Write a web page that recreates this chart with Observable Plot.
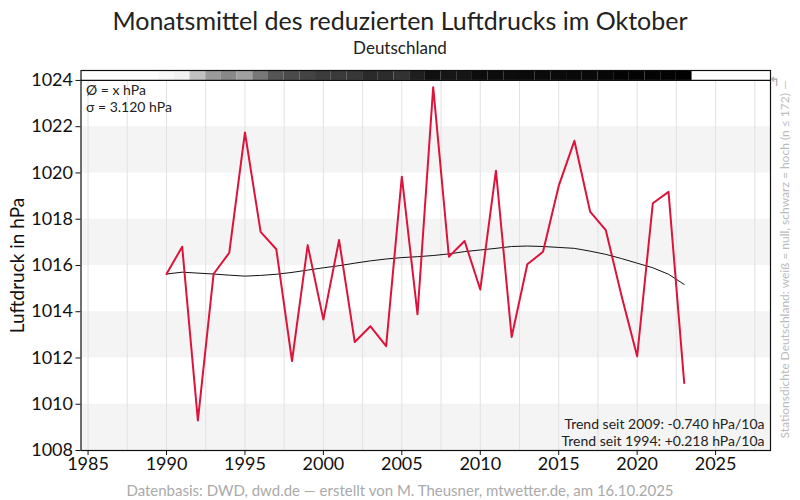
<!DOCTYPE html>
<html>
<head>
<meta charset="utf-8">
<script src="https://cdn.jsdelivr.net/npm/d3@7"></script>
<script src="https://cdn.jsdelivr.net/npm/@observablehq/plot@0.6"></script>
<style>
  body { margin: 0; background: #fff; font-family: Lato, "Noto Sans", sans-serif; }
  #wrap { width: 800px; }
  .title { text-align: center; font-size: 25px; color: #222; line-height: 32px; padding-top: 4px; height: 32px; }
  .subtitle { text-align: center; font-size: 17px; color: #222; line-height: 24px; height: 24px; }
  .caption { text-align: center; font-size: 15px; color: #aaa; line-height: 20px; height: 20px; }
  svg { display: block; }
</style>
</head>
<body>
<div id="wrap">
  <div class="title">Monatsmittel des reduzierten Luftdrucks im Oktober</div>
  <div class="subtitle">Deutschland</div>
  <div id="chart"></div>
  <div class="caption">Datenbasis: DWD, dwd.de — erstellt von M. Theusner, mtwetter.de, am 16.10.2025</div>
</div>
<script>
// Years and October monthly mean reduced pressure (hPa)
const years = [1990,1991,1992,1993,1994,1995,1996,1997,1998,1999,2000,2001,2002,2003,2004,2005,2006,2007,2008,2009,2010,2011,2012,2013,2014,2015,2016,2017,2018,2019,2020,2021,2022,2023];
const pressure = [1015.63,1016.81,1009.30,1015.63,1016.55,1021.75,1017.45,1016.70,1011.87,1016.88,1013.66,1017.10,1012.69,1013.37,1012.51,1019.84,1013.89,1023.71,1016.38,1017.06,1014.96,1020.10,1012.91,1016.05,1016.59,1019.44,1021.39,1018.33,1017.53,1014.70,1012.07,1018.69,1019.18,1010.92];
// smoothed curve
const smooth = [1015.63,1015.71,1015.67,1015.63,1015.58,1015.54,1015.57,1015.62,1015.70,1015.80,1015.90,1015.99,1016.10,1016.20,1016.28,1016.34,1016.38,1016.43,1016.50,1016.60,1016.67,1016.74,1016.82,1016.84,1016.82,1016.78,1016.74,1016.62,1016.48,1016.30,1016.10,1015.90,1015.62,1015.18];
// station density (number of stations)
const stations = [5,9,42,68,80,64,92,115,122,126,132,133,134,144,142,138,152,161,157,158,163,164,164,165,165,165,166,166,167,169,169,169,170,171];
const stationMax = 172;

const xTicks = [1985,1990,1995,2000,2005,2010,2015,2020,2025];
const yTicks = [1008,1010,1012,1014,1016,1018,1020,1022,1024];
const bandStarts = [1008,1012,1016,1020];
const xDomain = [1984.55, 2028.5];
const yDomain = [1008, 1024.43];

const statsText = ["Ø = x hPa", "σ = 3.120 hPa"];
const trendText = ["Trend seit 2009: -0.740 hPa/10a", "Trend seit 1994: +0.218 hPa/10a"];
const sideText = "Stationsdichte Deutschland: weiß = null, schwarz = hoch (n ≤ 172) —";

const series = years.map((y, i) => ({year: y, p: pressure[i], s: smooth[i], n: stations[i]}));
const grid = d3.range(xTicks[0], xDomain[1], 2.5);
const bands = bandStarts.map(b => ({y1: b, y2: b + 2}));

const chart = Plot.plot({
  width: 800,
  height: 420,
  marginLeft: 80.5,
  marginRight: 30,
  marginTop: 10,
  marginBottom: 30,
  style: {fontFamily: "Lato, 'Noto Sans', sans-serif", fontSize: "18px", color: "#111", background: "#fff"},
  x: {domain: xDomain},
  y: {domain: yDomain},
  color: {type: "linear", domain: [0, stationMax], range: ["white", "black"]},
  marks: [
    Plot.rectY(bands, {y1: "y1", y2: "y2", fill: "#f4f4f4"}),
    Plot.ruleX(grid, {stroke: "#e2e2e2", strokeWidth: 1, y1: yDomain[0], y2: yTicks[yTicks.length - 1]}),
    Plot.rect(series, {x1: d => d.year - 0.5, x2: d => d.year + 0.5, y1: yTicks[yTicks.length - 1], y2: yDomain[1], fill: "n"}),
    Plot.ruleY([yTicks[yTicks.length - 1]], {stroke: "#111", strokeWidth: 1.2}),
    Plot.line(series, {x: "year", y: "s", stroke: "#111", strokeWidth: 1}),
    Plot.line(series, {x: "year", y: "p", stroke: "#dc143c", strokeWidth: 2}),
    Plot.axisX({ticks: xTicks, tickFormat: d => String(d), tickSize: 5, fontSize: 18, label: null, tickPadding: 2}),
    Plot.axisY({ticks: yTicks, tickFormat: d => String(d), tickSize: 5, fontSize: 18, label: null, tickPadding: 3}),
    Plot.text([statsText.join("\n")], {frameAnchor: "top-left", dx: 5, dy: 13, lineAnchor: "top", textAnchor: "start", fontSize: 14, fill: "#222", lineHeight: 1.2}),
    Plot.text([trendText.join("\n")], {frameAnchor: "bottom-right", dx: -6, dy: -5, lineAnchor: "bottom", textAnchor: "end", fontSize: 14, fill: "#222", lineHeight: 1.15}),
    Plot.text([sideText], {frameAnchor: "right", rotate: -90, dx: 15, dy: -1, fontSize: 12, fill: "#bbb", textAnchor: "middle"}),
    Plot.text(["↰"], {frameAnchor: "top-right", dx: 9, dy: 6, fontSize: 13, fill: "#aaa"}),
    Plot.text(["Luftdruck in hPa"], {frameAnchor: "left", rotate: -90, dx: -63, dy: 5, fontSize: 19, fill: "#111", textAnchor: "middle"}),
    Plot.frame({stroke: "#111", strokeWidth: 1.2})
  ]
});
document.getElementById("chart").appendChild(chart);
</script>
</body>
</html>
